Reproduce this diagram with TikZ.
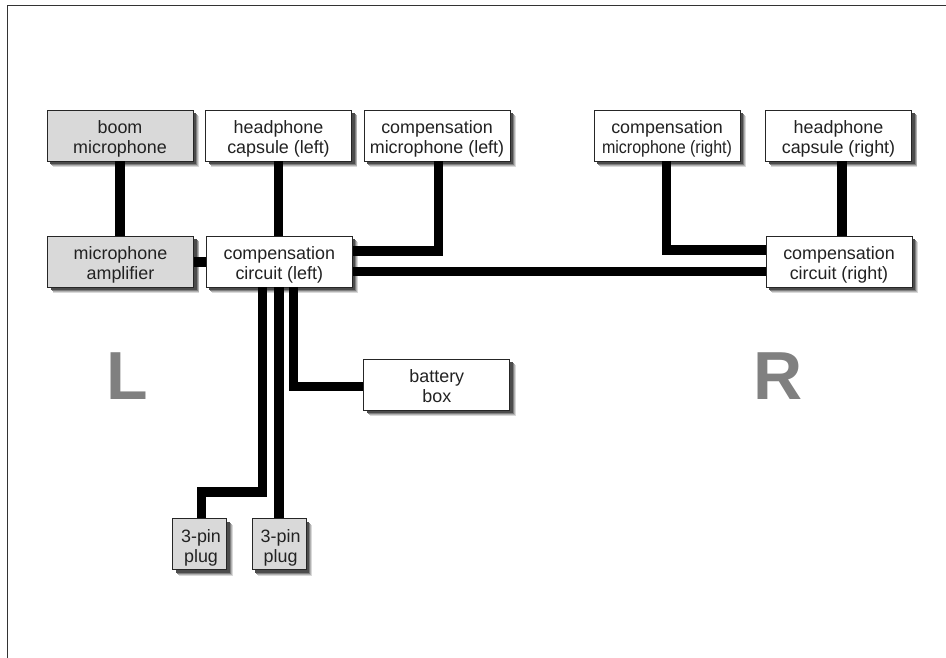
\documentclass[tikz,border=0pt]{standalone}
\usepackage{fontspec}
\setmainfont{Liberation Sans}
\usetikzlibrary{shadows,calc}
\definecolor{boxgray}{HTML}{D9D9D9}
\definecolor{ink}{HTML}{222222}
\newcommand{\twolines}[2]{\rule{0pt}{19.6pt}#1\\#2\rule[-4pt]{0pt}{4pt}}
\begin{document}
\begin{tikzpicture}[x=1pt,y=-1pt,
  softshadow/.style={
    general shadow={shadow xshift=5.8pt,shadow yshift=-5.8pt,fill=black!15,draw=none},
    general shadow={shadow xshift=5pt,shadow yshift=-5pt,fill=black!30,draw=none},
    general shadow={shadow xshift=4pt,shadow yshift=-4pt,fill=black!50,draw=none},
    general shadow={shadow xshift=3pt,shadow yshift=-3pt,fill=black!70,draw=none}},
  unitbox/.style={softshadow,draw=black!85,line width=0.9pt,fill=white,align=center,
    inner sep=0pt,text=ink,font=\fontsize{17.9}{20}\selectfont},
  widebox/.style={unitbox,minimum width=146pt,minimum height=51pt},
  smallbox/.style={unitbox,minimum width=54pt,minimum height=51pt,fill=boxgray},
  shaded/.style={fill=boxgray},
  wire/.style={line width=9.3pt,draw=black},
  bigletter/.style={font=\bfseries\fontsize{68}{68}\selectfont,text=black!50,inner sep=0pt}]
\useasboundingbox (0,0) rectangle (946,658);
\fill[white] (0,0) rectangle (946,658);
\draw[black!80,line width=1pt] (7,658) -- (7,6) -- (946,6);

\node[widebox,shaded] (boom) at (120,135.5) {\twolines{boom}{microphone}};
\node[widebox] (hpL) at (278.5,135.5) {\twolines{headphone}{capsule (left)}};
\node[widebox] (cmL) at (437,135.5) {\twolines{compensation}{microphone (left)}};
\node[widebox] (cmR) at (667,135.5) {\twolines{compensation}{\scalebox{0.895}[1]{microphone (right)}}};
\node[widebox] (hpR) at (838.5,135.5) {\twolines{headphone}{capsule (right)}};
\node[widebox,shaded] (amp) at (120.5,261.5) {\twolines{microphone}{amplifier}};
\node[widebox] (ccL) at (279.3,261.5) {\twolines{compensation}{circuit (left)}};
\node[widebox] (ccR) at (839,261.5) {\twolines{compensation}{circuit (right)}};
\node[widebox] (bat) at (436.8,384.8) {\twolines{battery}{box}};
\node[smallbox] (plA) at (199.7,544.2) {\twolines{\hspace*{2.6pt}3-pin}{\hspace*{2.6pt}plug}};
\node[smallbox] (plB) at (279.3,544.2) {\twolines{\hspace*{2.6pt}3-pin}{\hspace*{2.6pt}plug}};

\node[bigletter] (letL) at (127.5,376) {L};
\node[bigletter] (letR) at (778,376) {R};

\coordinate (xcm) at (438.7,251);
\coordinate (xcr) at (666.3,250);
\coordinate (xmain) at (0,271.7);
\coordinate (xamp) at (0,262);
\coordinate (xhp) at (842,0);
\coordinate (xhl) at (278.5,0);
\coordinate (xa) at (262.7,492);
\coordinate (xpa) at (201.7,492);
\coordinate (xb) at (279,0);
\coordinate (xc) at (293.3,386.3);

\draw[wire] (boom.south) -- (boom.south |- amp.north);
\draw[wire] (hpL.south -| xhl) -- (ccL.north -| xhl);
\draw[wire,line join=miter] (cmL.south -| xcm) -- (xcm) -- (xcm -| ccL.east);
\draw[wire] (xmain -| ccL.east) -- (xmain -| ccR.west);
\draw[wire] (xamp -| amp.east) -- (xamp -| ccL.west);
\draw[wire,line join=miter] (cmR.south -| xcr) -- (xcr) -- (xcr -| ccR.west);
\draw[wire] (hpR.south -| xhp) -- (ccR.north -| xhp);
\draw[wire,line join=miter] (ccL.south -| xa) -- (xa) -- (xpa) -- (plA.north -| xpa);
\draw[wire] (ccL.south -| xb) -- (plB.north -| xb);
\draw[wire,line join=miter] (ccL.south -| xc) -- (xc) -- (xc -| bat.west);
\end{tikzpicture}
\end{document}
